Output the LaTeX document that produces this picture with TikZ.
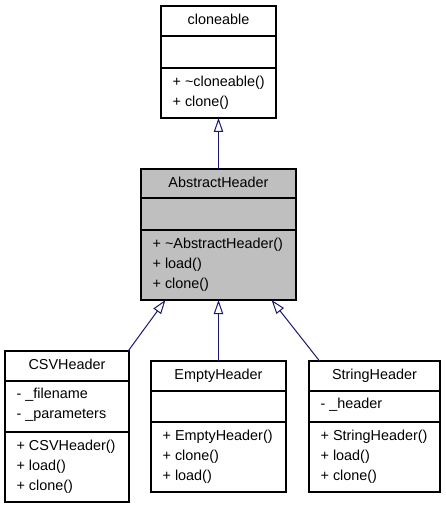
\documentclass[tikz,border=0pt]{standalone}
\usepackage{fontspec}
\setmainfont{Liberation Sans}
\usetikzlibrary{arrows.meta}
\definecolor{edgeblue}{HTML}{191970}
\definecolor{classgray}{HTML}{BFBFBF}

\begin{document}
\begin{tikzpicture}[x=0.75pt,y=-0.75pt,line width=0.9pt,
  font=\fontsize{10.8}{13}\selectfont,
  classbox/.style={draw,fill=white,inner sep=0pt,outer sep=0pt},
  title/.style={inner sep=0pt,text height=8pt,text depth=2.2pt},
  member/.style={anchor=west,inner sep=0pt,text height=8pt,text depth=2.2pt},
  inherit/.style={draw=edgeblue,line width=0.75pt,-{Triangle[open,length=10.5pt,width=7pt]}}]
\useasboundingbox (0,0) rectangle (445,509);

% Class boxes
\node[classbox,minimum width=86.25pt,minimum height=84pt] (cloneable) at (218.5,62) {};
\node[classbox,fill=classgray,minimum width=116.25pt,minimum height=98.25pt] (abstract) at (218.5,234.5) {};
\node[classbox,minimum width=93pt,minimum height=113.25pt] (csv) at (67,426.5) {};
\node[classbox,minimum width=101.25pt,minimum height=98.25pt] (empty) at (218.5,426.5) {};
\node[classbox,minimum width=98.25pt,minimum height=98.25pt] (string) at (374.5,426.5) {};

% Dividers
\foreach \y in {36,68} {
  \draw (cloneable.west |- 0,\y) -- (cloneable.east |- 0,\y);
}
\foreach \y in {198,230} {
  \draw (abstract.west |- 0,\y) -- (abstract.east |- 0,\y);
}
\foreach \y in {381,432} {
  \draw (csv.west |- 0,\y) -- (csv.east |- 0,\y);
}
\foreach \y in {391,422} {
  \draw (empty.west |- 0,\y) -- (empty.east |- 0,\y);
  \draw (string.west |- 0,\y) -- (string.east |- 0,\y);
}

% Titles
\node[title] (cloneable-name) at (218.5,21) {cloneable};
\node[title] (abstract-name) at (218.5,183.5) {AbstractHeader};
\node[title] (csv-name) at (67,366) {CSVHeader};
\node[title] (empty-name) at (218.5,376) {EmptyHeader};
\node[title] (string-name) at (374.5,376) {StringHeader};

% Members
\foreach \t [count=\i] in {+ \textasciitilde cloneable(),+ clone()} {
  \node[member] (cloneable-m\i) at (172,{83+(\i-1)*20}) {\t};
}
\foreach \t [count=\i] in {+ \textasciitilde AbstractHeader(),+ load(),+ clone()} {
  \node[member] (abstract-m\i) at (152,{245+(\i-1)*20}) {\t};
}
\foreach \t [count=\i] in {- \_filename,- \_parameters} {
  \node[member] (csv-a\i) at (16,{395+(\i-1)*20}) {\t};
}
\foreach \t [count=\i] in {+ CSVHeader(),+ load(),+ clone()} {
  \node[member] (csv-m\i) at (16,{447+(\i-1)*20}) {\t};
}
\foreach \t [count=\i] in {+ EmptyHeader(),+ clone(),+ load()} {
  \node[member] (empty-m\i) at (162,{437+(\i-1)*20}) {\t};
}
\node[member] (string-a1) at (320,405) {- \_header};
\foreach \t [count=\i] in {+ StringHeader(),+ load(),+ clone()} {
  \node[member] (string-m\i) at (320,{437+(\i-1)*20}) {\t};
}

% Inheritance
\draw[inherit] (abstract.north) -- (cloneable.south);
\draw[inherit] (csv.51) -- (abstract.231);
\draw[inherit] (empty.north) -- (abstract.south);
\draw[inherit] (string.130) -- (abstract.309);

\end{tikzpicture}
\end{document}
